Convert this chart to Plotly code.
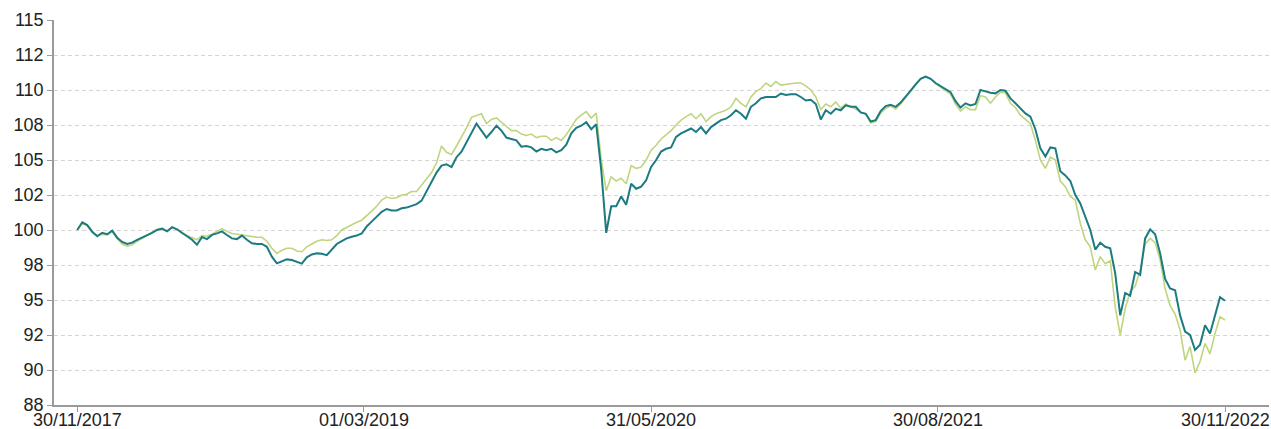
import pandas as pd
import plotly.graph_objects as go

start_date = "2017-11-30"
end_date = "2022-11-30"

series_teal = [
    100.0, 100.55, 100.35, 99.88, 99.55, 99.8, 99.7, 99.95, 99.45, 99.15, 99.0, 99.1, 99.3, 99.45, 99.6, 99.8,
    100.0, 100.1, 99.9, 100.2, 100.05, 99.8, 99.57, 99.3, 98.95, 99.5, 99.35, 99.65, 99.76, 99.9, 99.64, 99.4, 99.35,
    99.6, 99.3, 99.05, 99.0, 99.0, 98.8, 98.1, 97.62, 97.74, 97.9, 97.85, 97.7, 97.6, 98.05, 98.25, 98.33, 98.3,
    98.2, 98.6, 99.0, 99.2, 99.4, 99.52, 99.6, 99.75, 100.25, 100.6, 100.95, 101.3, 101.5, 101.4, 101.4, 101.55,
    101.6, 101.75,
    101.85, 102.1, 102.8, 103.5, 104.1, 104.6, 104.7, 104.5, 105.2, 105.6, 106.3, 107.0, 107.6, 107.1, 106.6,
    107.0, 107.45, 107.1, 106.6, 106.5, 106.4, 105.95, 106.0, 105.9, 105.6, 105.8, 105.7, 105.8, 105.55, 105.7,
    106.1, 106.9, 107.3, 107.45, 107.7, 107.2, 107.55, 104.3, 99.8,
    101.7, 101.7, 102.4, 101.8, 103.3, 102.95, 103.1, 103.55, 104.5, 105.0, 105.6, 105.8, 105.9, 106.65, 106.9,
    107.1, 107.25, 107.0, 107.35, 106.9, 107.35, 107.6, 107.85, 107.95, 108.2, 108.55, 108.3, 107.95, 108.8,
    109.05, 109.4, 109.5, 109.5, 109.5, 109.75, 109.65,
    109.7, 109.7, 109.5, 109.25, 109.3, 109.0, 107.9, 108.55, 108.3, 108.65, 108.55, 108.9, 108.8, 108.8, 108.4,
    108.3, 107.75, 107.85, 108.5, 108.85, 108.95, 108.8, 109.1, 109.5, 109.95, 110.4, 110.8, 110.95, 110.8,
    110.5, 110.3,
    110.05, 109.85, 109.2, 108.75, 109.05, 108.9, 109.0, 110.0, 109.9, 109.8, 109.76, 110.0, 109.95, 109.4,
    109.05, 108.7, 108.33, 108.1, 107.2, 105.83, 105.25, 105.9, 105.83, 104.2, 103.9, 103.5, 102.5, 101.9,
    100.95, 100.0, 98.6, 99.1, 98.8, 98.7,
    96.9, 93.9, 95.5, 95.3, 97.0, 96.8, 99.4, 100.05, 99.7, 98.33, 96.5, 95.83, 95.7, 93.9, 92.74, 92.5, 91.43,
    91.8, 93.2, 92.6, 93.9, 95.2, 94.95,
]

series_green = [
    100.0, 100.5, 100.3, 99.8, 99.6, 99.7, 99.65, 99.9, 99.4, 99.0, 98.85, 98.95, 99.2, 99.4, 99.6, 99.85,
    100.05, 100.1, 99.95, 100.15, 100.05, 99.75, 99.6, 99.45, 99.3, 99.6, 99.55, 99.7, 99.9, 100.1, 99.9, 99.75,
    99.7,
    99.65, 99.55, 99.5, 99.48, 99.48, 99.2, 98.7, 98.33, 98.55, 98.7, 98.7, 98.5, 98.45, 98.8, 99.0, 99.2, 99.3,
    99.25, 99.3, 99.6, 100.0, 100.2, 100.4, 100.55, 100.7, 101.0, 101.35, 101.7, 102.14, 102.35, 102.25, 102.3,
    102.5, 102.55, 102.75,
    102.75, 103.2, 103.7, 104.1, 104.8, 106.0, 105.55, 105.4, 106.0, 106.6, 107.3, 108.05, 108.2, 108.3, 107.6,
    107.9, 108.0, 107.7, 107.45, 107.1, 107.1, 106.85, 106.75, 106.85, 106.6, 106.7, 106.7, 106.4, 106.6, 106.4,
    106.8, 107.4, 107.9, 108.2, 108.45, 108.0, 108.35, 105.0, 102.8,
    103.8, 103.5, 103.7, 103.3, 104.6, 104.4, 104.5, 105.0, 105.7, 106.05, 106.5, 106.8, 107.1, 107.5, 107.85,
    108.1, 108.3, 107.95, 108.3, 107.75, 108.1, 108.3, 108.45, 108.55, 108.8, 109.4, 109.05, 108.8, 109.5, 109.9,
    110.1, 110.5, 110.25, 110.6, 110.35, 110.4,
    110.5, 110.5, 110.5, 110.3, 110.0, 109.5, 108.6, 109.0, 108.8, 109.15, 108.7, 109.0, 108.8, 108.65, 108.4,
    108.3, 107.65, 107.75, 108.35, 108.7, 108.85, 108.65, 109.0, 109.45, 109.9, 110.35, 110.8, 110.95, 110.8,
    110.45, 110.2,
    109.95, 109.7, 109.0, 108.5, 108.8, 108.6, 108.6, 109.6, 109.5, 109.05, 109.5, 109.85, 109.8, 109.05, 108.75,
    108.2, 107.9, 107.6, 106.4, 105.0, 104.4, 105.2, 105.0, 103.5, 103.1, 102.4, 102.14, 100.48, 99.3, 98.8,
    97.14, 98.1, 97.6, 97.8,
    94.5, 92.5, 94.4, 95.6, 96.0, 97.1, 99.0, 99.4, 99.1, 97.86, 95.8, 94.6, 94.0, 92.86, 90.7, 91.67, 89.8,
    90.6, 91.9, 91.15, 92.6, 93.8, 93.57,
]

x_tick_dates = ["2017-11-30", "2019-03-01", "2020-05-31", "2021-08-30", "2022-11-30"]
x_tick_labels = ["30/11/2017", "01/03/2019", "31/05/2020", "30/08/2021", "30/11/2022"]
y_tick_values = [87.5, 90, 92.5, 95, 97.5, 100, 102.5, 105, 107.5, 110, 112.5, 115]
y_tick_labels = ["88", "90", "92", "95", "98", "100", "102", "105", "108", "110", "112", "115"]
y_grid_values = [90, 92.5, 95, 97.5, 100, 102.5, 105, 107.5, 110, 112.5]

dates = pd.date_range(start_date, end_date, periods=len(series_teal))

fig = go.Figure()
fig.add_trace(go.Scatter(x=[dates[0]], y=[100], yaxis="y2", mode="lines", showlegend=False,
                         hoverinfo="skip", line=dict(width=0)))
fig.add_trace(go.Scatter(x=dates, y=series_green, mode="lines", name="Benchmark",
                         line=dict(color="#bfd57e", width=1.6), showlegend=False))
fig.add_trace(go.Scatter(x=dates, y=series_teal, mode="lines", name="Fund",
                         line=dict(color="#1b7b80", width=2), showlegend=False))

font_family = "Arial, Liberation Sans, sans-serif"
text_color = "#222222"
fig.update_layout(
    width=1271, height=429,
    margin=dict(l=54, r=2, t=20, b=24, autoexpand=False),
    paper_bgcolor="white", plot_bgcolor="white",
    font=dict(family=font_family, size=18, color=text_color),
    xaxis=dict(
        type="date", automargin=False,
        range=["2017-10-24", "2023-02-08"],
        tickvals=x_tick_dates, showticklabels=False,
        showgrid=False, zeroline=False,
        showline=True, linecolor="#9a9a9a", linewidth=1.5,
        ticks="outside", ticklen=5, tickcolor="#9a9a9a", tickwidth=1,
    ),
    yaxis=dict(
        automargin=False,
        range=[87.5, 115],
        tickvals=y_tick_values, ticktext=y_tick_labels,
        showgrid=False, zeroline=False,
        showline=True, linecolor="#9a9a9a", linewidth=1.5,
        ticks="outside", ticklen=5, tickcolor="#9a9a9a", tickwidth=1,
    ),
    yaxis2=dict(
        range=[87.5, 115], overlaying="y", anchor="x", automargin=False,
        tickvals=y_grid_values, showticklabels=False, ticks="",
        showgrid=True, gridcolor="#d4d4d4", gridwidth=1, griddash="4px,3px",
        zeroline=False, showline=False,
    ),
)
for d, lab in zip(x_tick_dates, x_tick_labels):
    fig.add_annotation(x=d, xref="x", y=0, yref="paper", yanchor="top", xanchor="center",
                       yshift=-4, borderpad=0, text=lab, showarrow=False,
                       font=dict(family=font_family, size=18, color=text_color))

fig.write_html("out.html", post_script="document.body.style.margin='0';",
               config={"displayModeBar": False})
